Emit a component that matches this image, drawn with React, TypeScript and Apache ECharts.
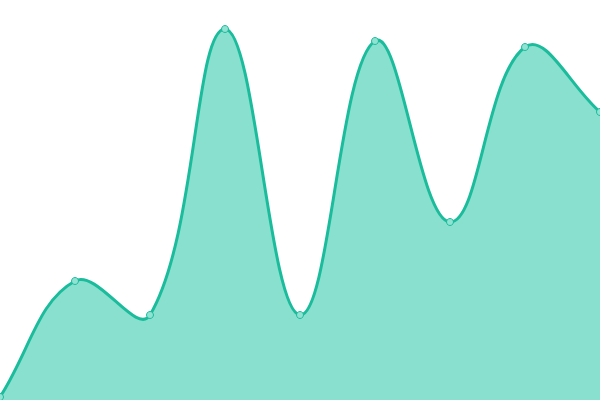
import React, { useEffect, useRef } from "react";
import * as echarts from "echarts";

const categories = ["A", "B", "C", "D", "E", "F", "G", "H", "I"];
const values = [3, 119, 85, 371, 85, 359, 178, 353, 288];
const yMin = 0;
const yMax = 400;

const TENSION = 0.4;
const LINE_COLOR = "#1abc9c";
const AREA_COLOR = "#8ae0cf";

type Pt = [number, number];

function splinePath(pts: Pt[], box: { x: number; y: number; width: number; height: number }) {
  const clampX = (v: number) => Math.min(Math.max(v, box.x), box.x + box.width);
  const clampY = (v: number) => Math.min(Math.max(v, box.y), box.y + box.height);
  const cps = pts.map((p, i) => {
    const prev = pts[i - 1] || p;
    const next = pts[i + 1] || p;
    const d01 = Math.hypot(p[0] - prev[0], p[1] - prev[1]);
    const d12 = Math.hypot(next[0] - p[0], next[1] - p[1]);
    let s01 = d01 / (d01 + d12);
    let s12 = d12 / (d01 + d12);
    if (!isFinite(s01)) s01 = 0;
    if (!isFinite(s12)) s12 = 0;
    const fa = TENSION * s01;
    const fb = TENSION * s12;
    const before: Pt = [
      clampX(p[0] - fa * (next[0] - prev[0])),
      clampY(p[1] - fa * (next[1] - prev[1])),
    ];
    const after: Pt = [
      clampX(p[0] + fb * (next[0] - prev[0])),
      clampY(p[1] + fb * (next[1] - prev[1])),
    ];
    return { before, after };
  });
  let d = `M${pts[0][0]},${pts[0][1]}`;
  for (let i = 1; i < pts.length; i++) {
    const c0 = cps[i - 1].after;
    const c1 = cps[i].before;
    const p = pts[i];
    d += ` C${c0[0]},${c0[1]} ${c1[0]},${c1[1]} ${p[0]},${p[1]}`;
  }
  return d;
}

export default function App() {
  const ref = useRef<HTMLDivElement>(null);
  useEffect(() => {
    if (!ref.current) return;
    const chart = echarts.init(ref.current, undefined, { renderer: "svg" });
    chart.setOption({
      animation: false,
      grid: { left: 0, right: 0, top: 0, bottom: 0 },
      xAxis: {
        type: "category",
        data: categories,
        boundaryGap: false,
        show: false,
      },
      yAxis: { type: "value", min: yMin, max: yMax, show: false },
      series: [
        {
          type: "custom",
          data: values.map((v, i) => [i, v]),
          z: 1,
          silent: true,
          renderItem: (params: any, api: any) => {
            if (params.dataIndex !== 0) return null;
            const pts: Pt[] = values.map((v, i) => api.coord([i, v]) as Pt);
            const base = api.coord([0, yMin])[1];
            const box = params.coordSys;
            const line = splinePath(pts, box);
            const last = pts[pts.length - 1];
            const first = pts[0];
            const area = `${line} L${last[0]},${base} L${first[0]},${base} Z`;
            return {
              type: "group",
              children: [
                {
                  type: "path",
                  shape: { pathData: area },
                  style: { fill: AREA_COLOR, stroke: null },
                },
                {
                  type: "path",
                  shape: { pathData: line },
                  style: {
                    fill: null,
                    stroke: LINE_COLOR,
                    lineWidth: 3,
                    lineJoin: "round",
                  },
                },
              ],
            };
          },
        },
        {
          type: "scatter",
          data: values,
          z: 3,
          symbol: "circle",
          symbolSize: 7,
          itemStyle: { color: "#90e2d2", borderColor: LINE_COLOR, borderWidth: 1, opacity: 1 },
        },
      ],
    });
    return () => chart.dispose();
  }, []);
  return (
    <div
      ref={ref}
      style={{ position: "fixed", left: 0, top: 0, width: 600, height: 400 }}
    />
  );
}
